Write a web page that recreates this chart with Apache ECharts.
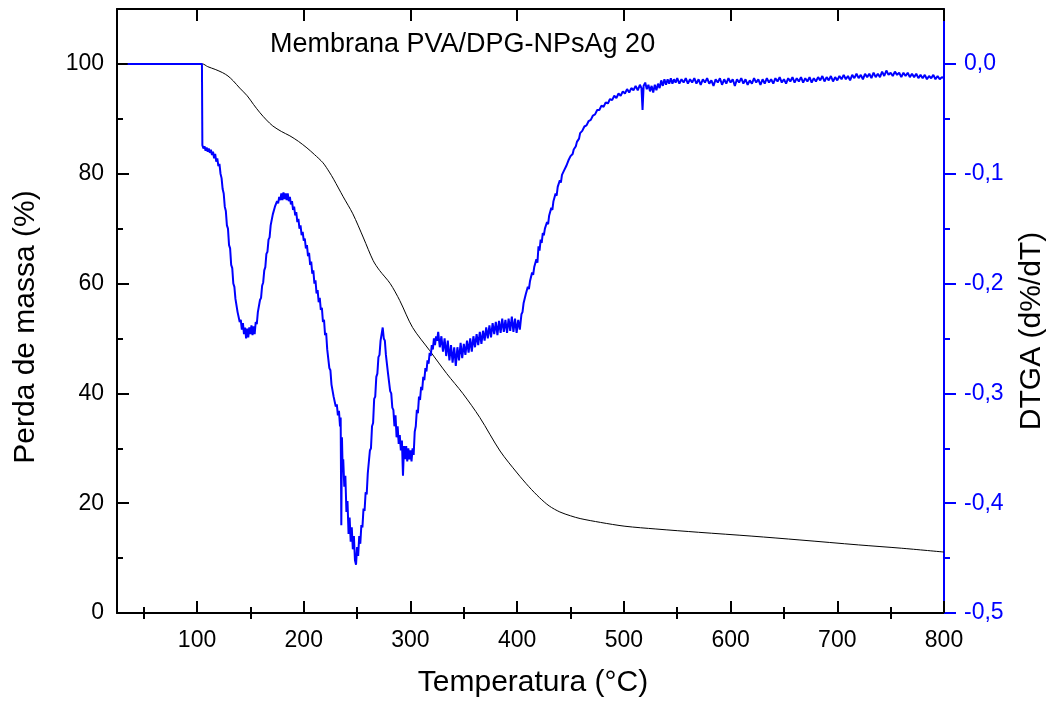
<!DOCTYPE html>
<html>
<head>
<meta charset="utf-8">
<script src="https://cdn.jsdelivr.net/npm/echarts@6/dist/echarts.min.js"></script>
<style>html,body{margin:0;padding:0;background:#fff}#c{width:1053px;height:704px}</style>
</head>
<body>
<div id="c"></div>
<script>
// ---- data ----
const chartTitle = 'Membrana PVA/DPG-NPsAg 20';
const xAxisTitle = 'Temperatura (°C)';
const yLeftTitle = 'Perda de massa (%)';
const yRightTitle = 'DTGA (d%/dT)';
const xMajorTicks = [100, 200, 300, 400, 500, 600, 700, 800];
const xMinorTicks = [50, 150, 250, 350, 450, 550, 650, 750];
const yLeftMajor = [0, 20, 40, 60, 80, 100];
const yLeftMinor = [10, 30, 50, 70, 90];
const yRightMajor = [-0.5, -0.4, -0.3, -0.2, -0.1, 0.0];
const yRightMinor = [-0.45, -0.35, -0.25, -0.15, -0.05];

// TGA: [temperature, mass %]
const tgaCurve = [[35,100],[70,100],[105,100],[110,99.5],[117,99.0],[124,98.4],[129,97.8],[134,96.9],[140,95.6],[147,94.2],[153,92.6],[159,91.1],[165,89.8],[171,88.7],[179,87.7],[187,86.9],[195,85.9],[203,84.7],[210,83.5],[218,82],[224,80.3],[228,79],[237,75.8],[246,72.7],[256,68.3],[265,64.2],[271,62.4],[281,60],[290,56.9],[302,52],[318,47.8],[334,43.6],[349,40],[365,35.6],[384,29.5],[400,25.5],[411,23],[421,21],[430,19.5],[440,18.4],[450,17.7],[459,17.2],[478,16.5],[501,15.8],[530,15.3],[570,14.7],[620,14],[665,13.3],[720,12.4],[760,11.8],[800,11.1]];

// DTGA: [temperature, d%/dT]
const dtgaCurve = [[35,0],[70,0],[104.6,0],[105,-0.074],[106,-0.077],[107,-0.075],[108,-0.079],[109,-0.076],[110,-0.08],[111,-0.077],[112,-0.081],[113,-0.078],[114,-0.083],[115,-0.08],[116,-0.086],[117,-0.082],[118,-0.089],[119,-0.086],[120,-0.093],[121,-0.091],[122,-0.1],
[123,-0.104],[124,-0.114],[125,-0.118],[126,-0.13],[127,-0.134],[128,-0.147],[129,-0.15],[130,-0.165],[131,-0.168],[132,-0.183],[133,-0.186],[134,-0.2],[135,-0.203],[136,-0.214],[137,-0.215],[138,-0.226],[139,-0.225],[140,-0.235],[141,-0.233],[142,-0.242],[143,-0.236],[144,-0.246],[145,-0.24],[146,-0.25],[147,-0.241],[148,-0.249],[149,-0.24],[150,-0.246],[151,-0.238],[152,-0.247],[153,-0.239],[154,-0.246],[155,-0.235],[156,-0.237],[157,-0.226],[158,-0.226],[159,-0.215],[160,-0.213],[161,-0.202],[162,-0.199],[163,-0.188],[164,-0.185],[165,-0.173],[166,-0.171],[167,-0.16],[168,-0.158],[169,-0.147],[170,-0.146],[171,-0.137],[172,-0.137],[173,-0.13],[174,-0.131],[175,-0.125],[176,-0.127],[177,-0.121],[178,-0.124],[179,-0.118],[180,-0.124],[181,-0.117],[182,-0.123],[183,-0.118],[184,-0.124],[185,-0.118],[186,-0.125],[187,-0.121],[188,-0.128],[189,-0.125],[190,-0.133],[191,-0.13],[192,-0.138],[193,-0.135],[194,-0.144],[195,-0.141],[196,-0.15],[197,-0.147],[198,-0.156],[199,-0.153],[200,-0.161],[201,-0.159],[202,-0.168],[203,-0.165],[204,-0.175],[205,-0.172],[206,-0.183],[207,-0.18],[208,-0.191],[209,-0.188],[210,-0.2],[211,-0.197],[212,-0.209],[213,-0.206],[214,-0.217],[215,-0.213],[216,-0.224],[217,-0.222],[218,-0.235],[219,-0.233],[220,-0.247],[221,-0.245],[222,-0.26],[223,-0.26],[224,-0.277],[225,-0.279],[226,-0.292],[227,-0.293],[228,-0.303],[229,-0.302],[230,-0.312],[231,-0.31],[232,-0.32],[233,-0.316],[234,-0.33],[234.6,-0.322],[235.2,-0.42],[235.8,-0.34],[236.5,-0.37],[237,-0.36],[238,-0.385],[239,-0.375],[240,-0.408],[241,-0.398],[242,-0.428],[243,-0.413],[244,-0.435],[245,-0.422],[246,-0.442],[247,-0.43],[248,-0.452],[249,-0.456],[250,-0.44],[251,-0.448],[252,-0.43],[253,-0.437],[254,-0.42],[255,-0.422],[256,-0.405],[257,-0.407],[258,-0.39],[259,-0.392],[260,-0.373],[261,-0.372],[262,-0.352],[263,-0.35],[264,-0.33],[265,-0.327],[266,-0.305],[267,-0.303],[268,-0.285],[269,-0.282],[270,-0.267],[271,-0.265],[272,-0.252],[273,-0.252],[274,-0.24],[275,-0.25],[276,-0.252],[277,-0.265],[278,-0.266],[279,-0.282],[280,-0.283],[281,-0.298],[282,-0.3],[283,-0.313],[284,-0.315],[285,-0.33],[286,-0.32],[287,-0.34],[288,-0.33],[289,-0.346],[290,-0.338],[291,-0.352],[292,-0.343],[293,-0.375],[294,-0.348],[295,-0.36],[296,-0.348],[297,-0.362],[298,-0.35],[299,-0.36],[300,-0.352],[301,-0.362],[302,-0.35],[303,-0.356],[304,-0.335],[305,-0.33],[306,-0.315],[307,-0.318],[308,-0.303],[309,-0.306],[310,-0.294],[311,-0.297],[312,-0.285],[313,-0.288],[314,-0.277],[315,-0.28],[316,-0.27],[317,-0.273],[318,-0.263],[319,-0.266],[320,-0.256],[321,-0.26],[322,-0.25],[323,-0.256],[324,-0.248],
[325,-0.252],[326,-0.244],[327.5,-0.258],[329,-0.248],[330.5,-0.262],[332,-0.25],[333.5,-0.266],[335,-0.252],[336.5,-0.27],[338,-0.256],[339.5,-0.272],[341,-0.258],[342.5,-0.275],[344,-0.258],[345.5,-0.27],[347,-0.254],[348.5,-0.268],[350,-0.255],[351.5,-0.265],[353,-0.252],[354.5,-0.263],[356,-0.25],[357.5,-0.262],[359,-0.248],[360.5,-0.258],[362,-0.246],[363.5,-0.256],[365,-0.244],[366.5,-0.255],[368,-0.243],[369.5,-0.252],[371,-0.24],[372.5,-0.25],[374,-0.238],[375.5,-0.249],[377,-0.236],[378.5,-0.246],[380,-0.235],[381.5,-0.247],[383,-0.234],[384.5,-0.245],[386,-0.232],[387.5,-0.244],[389,-0.233],[390.5,-0.245],[392,-0.232],[393.5,-0.243],[395,-0.23],[396.5,-0.244],[398,-0.232],[399.5,-0.245],[401,-0.233],[402.5,-0.242],[404,-0.228],
[405,-0.226],[406,-0.218],[407,-0.219],[408,-0.21],[409,-0.211],[410,-0.203],[411,-0.205],[412,-0.198],[413,-0.199],[414,-0.19],[415,-0.192],[416,-0.185],[417,-0.186],[418,-0.178],[419,-0.181],[420,-0.166],[421,-0.17],[422,-0.16],[423,-0.163],[424,-0.154],[425,-0.156],[426,-0.15],[427,-0.151],[428,-0.144],[429,-0.146],[430,-0.138],[431,-0.139],[432,-0.131],[433,-0.133],[434,-0.125],[435,-0.126],[436,-0.118],[437,-0.12],[438,-0.112],[439,-0.113],[440,-0.106],[441,-0.108],[442,-0.101],[443,-0.102],[444,-0.097],[445,-0.098],[446,-0.093],[447,-0.094],[448,-0.088],[449,-0.089],[450,-0.084],[452,-0.082],[453,-0.078],[455,-0.075],[456,-0.071],[458,-0.068],[459,-0.063],[461,-0.061],[463,-0.057],[465,-0.056],[467,-0.052],[469,-0.051],[471,-0.047],[473,-0.046],[475,-0.042],[477,-0.042],[479,-0.038],[481,-0.039],[483,-0.035],[485,-0.036],[487,-0.032],[489,-0.033],[491,-0.029],[493,-0.031],[495,-0.027],[497,-0.029],[499,-0.025],[501,-0.027],[503,-0.023],[505,-0.026],[507,-0.022],[509,-0.024],[511,-0.02],[513,-0.024],[515,-0.019],[516.5,-0.022],[517.5,-0.042],[518.5,-0.02],[520,-0.017],[521.5,-0.023],
[523,-0.019],[524.5,-0.025],[526,-0.02],[527.5,-0.026],[529,-0.019],[530.5,-0.024],[532,-0.018],[533.5,-0.022],[535,-0.015],[536.5,-0.02],[538,-0.014],[539.5,-0.019],[541,-0.014],[542.5,-0.018],[544,-0.013],[545.5,-0.018],[547,-0.014],[548.5,-0.017],[550,-0.013],[552,-0.018],[554,-0.014],[556,-0.017],[558,-0.013],[560,-0.018],[562,-0.014],[564,-0.017],[566,-0.013],[568,-0.018],[570,-0.014],[572,-0.019],[574,-0.014],[576,-0.017],[578,-0.013],[580,-0.018],[582,-0.015],[584,-0.02],[586,-0.014],[588,-0.017],[590,-0.013],[592,-0.019],[594,-0.014],[596,-0.018],[598,-0.013],[600,-0.017],[602,-0.014],[604,-0.02],[606,-0.014],[608,-0.017],[610,-0.013],[612,-0.018],[614,-0.014],[616,-0.019],[618,-0.015],[620,-0.018],[622,-0.013],[624,-0.017],[626,-0.014],[628,-0.019],[630,-0.014],[632,-0.018],[634,-0.013],[636,-0.017],[638,-0.014],[640,-0.018],[642,-0.013],[644,-0.016],[646,-0.012],[648,-0.017],[650,-0.014],[652,-0.018],[654,-0.013],[656,-0.016],[658,-0.012],[660,-0.017],[662,-0.013],[664,-0.016],[666,-0.012],[668,-0.017],[670,-0.013],[672,-0.016],[674,-0.012],[676,-0.017],[678,-0.013],[680,-0.016],[682,-0.012],[684,-0.015],[686,-0.011],[688,-0.016],[690,-0.012],[692,-0.015],[694,-0.011],[696,-0.016],[698,-0.012],[700,-0.015],[702,-0.011],[704,-0.014],[706,-0.01],[708,-0.014],[710,-0.011],[712,-0.015],[714,-0.01],[716,-0.013],[718,-0.009],[720,-0.013],[722,-0.01],[724,-0.014],[726,-0.009],[728,-0.012],[730,-0.009],[732,-0.013],[734,-0.008],[736,-0.012],[738,-0.009],[740,-0.012],[742,-0.007],[744,-0.011],[746,-0.006],[748,-0.01],[750,-0.008],[752,-0.011],[754,-0.007],[756,-0.01],[758,-0.008],[760,-0.012],[762,-0.008],[764,-0.011],[766,-0.008],[768,-0.012],[770,-0.009],[772,-0.012],[774,-0.009],[776,-0.013],[778,-0.01],[780,-0.013],[782,-0.01],[784,-0.014],[786,-0.011],[788,-0.013],[790,-0.01],[792,-0.014],[794,-0.011],[796,-0.014],[798,-0.012],[800,-0.013]];

// ---- chart ----
const FONT = 'Liberation Sans, Arial, sans-serif';
const BLUE = '#0000ff';
const chart = echarts.init(document.getElementById('c'), null, {renderer: 'canvas'});

function tickAxis(pos, min, max, vals, len, inside, color) {
  return {
    type: 'value', position: pos, min: min, max: max,
    axisLine: {show: false}, splitLine: {show: false},
    axisLabel: {show: false},
    axisTick: {show: true, inside: inside, length: len, customValues: vals, lineStyle: {color: color, width: 2}}
  };
}

chart.setOption({
  animation: false,
  backgroundColor: '#fff',
  grid: {left: 117, right: 109, top: 9, bottom: 91, containLabel: false},
  graphic: [
    {type: 'text', left: 270, top: 31, z: 100,
     style: {text: chartTitle, font: '27px ' + FONT, fill: '#000'}},
    {type: 'text', x: 533, y: 683, z: 100,
     style: {text: xAxisTitle, font: '30px ' + FONT, fill: '#000', align: 'center', verticalAlign: 'middle'}},
    {type: 'text', x: 26, y: 327, rotation: Math.PI / 2, z: 100,
     style: {text: yLeftTitle, font: '30px ' + FONT, fill: '#000', align: 'center', verticalAlign: 'middle'}},
    {type: 'text', x: 1032, y: 331, rotation: Math.PI / 2, z: 100,
     style: {text: yRightTitle, font: '30px ' + FONT, fill: '#000', align: 'center', verticalAlign: 'middle'}}
  ],
  xAxis: [
    {
      type: 'value', position: 'bottom', min: 25, max: 800,
      axisLine: {show: true, onZero: false, lineStyle: {color: '#000', width: 2}},
      axisTick: {show: true, inside: true, length: 12, customValues: xMajorTicks, lineStyle: {color: '#000', width: 2}},
      axisLabel: {show: true, margin: 16, customValues: xMajorTicks, fontFamily: FONT, fontSize: 23, color: '#000'},
      splitLine: {show: false}
    },
    tickAxis('bottom', 25, 800, xMinorTicks, 6, true, '#000'),
    Object.assign(tickAxis('top', 25, 800, xMajorTicks, 12, true, '#000'), {axisLine: {show: true, onZero: false, lineStyle: {color: '#000', width: 2}}}),
    tickAxis('top', 25, 800, xMinorTicks, 6, true, '#000')
  ],
  yAxis: [
    {
      type: 'value', position: 'left', min: 0, max: 110,
      axisLine: {show: true, onZero: false, lineStyle: {color: '#000', width: 2}},
      axisTick: {show: true, inside: true, length: 12, customValues: yLeftMajor, lineStyle: {color: '#000', width: 2}},
      axisLabel: {show: true, margin: 13, customValues: yLeftMajor, fontFamily: FONT, fontSize: 23, color: '#000'},
      splitLine: {show: false}
    },
    tickAxis('left', 0, 110, yLeftMinor, 6, true, '#000'),
    {
      type: 'value', position: 'right', min: -0.5, max: 0.05,
      axisLine: {show: true, onZero: false, lineStyle: {color: BLUE, width: 2}},
      axisTick: {show: true, inside: false, length: 12, customValues: yRightMajor, lineStyle: {color: BLUE, width: 2}},
      axisLabel: {show: true, margin: 20, customValues: yRightMajor, fontFamily: FONT, fontSize: 23, color: BLUE,
        formatter: v => v.toFixed(1).replace('.', ',').replace('-0,0', '0,0')},
      splitLine: {show: false}
    },
    tickAxis('right', -0.5, 0.05, yRightMinor, 6, false, BLUE)
  ],
  series: [
    {
      type: 'line', name: 'TGA', xAxisIndex: 0, yAxisIndex: 0, data: tgaCurve,
      showSymbol: false, symbol: 'none', smooth: 0.3,
      lineStyle: {color: '#000', width: 1}
    },
    {
      type: 'line', name: 'DTGA', xAxisIndex: 0, yAxisIndex: 2, data: dtgaCurve,
      showSymbol: false, symbol: 'none',
      lineStyle: {color: BLUE, width: 2}
    }
  ]
});
</script>
</body>
</html>
